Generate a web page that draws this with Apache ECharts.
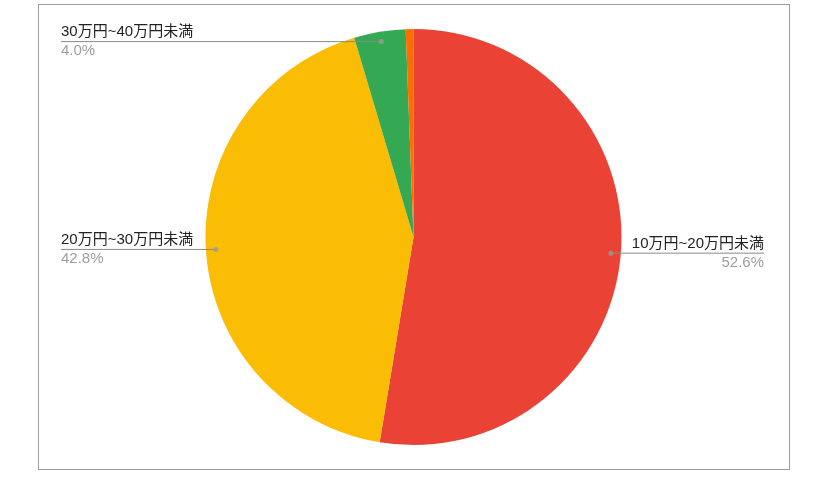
<!DOCTYPE html>
<html><head><meta charset="utf-8">
<script src="https://cdn.jsdelivr.net/npm/echarts@6/dist/echarts.min.js"></script>
<style>
html,body{margin:0;padding:0;background:#fff;}
#frame{position:absolute;left:38px;top:4px;width:750px;height:464px;border:1px solid #9e9e9e;}
#chart{position:absolute;left:0;top:0;width:825px;height:491px;}
</style></head><body>
<div id="frame"></div>
<div id="chart"></div>
<script>
const categories = ['10万円~20万円未満', '20万円~30万円未満', '30万円~40万円未満', '40万円以上'];
const values = [52.6, 42.8, 4.0, 0.6];
const colors = ['#EA4335', '#FBBC04', '#34A853', '#FF6D01'];
const labelled = [true, true, true, false];

const FONT = "'Liberation Sans', Arial, 'Noto Sans CJK JP', sans-serif";
const CENTER = [413.5, 237];
const RADIUS = 208;
const DOT_R = 0.952;

const total = values.reduce((a, b) => a + b, 0);
let acc = 0;
const dotData = [];
values.forEach((v, i) => {
  const mid = acc + v / 2;
  acc += v;
  if (labelled[i]) dotData.push([DOT_R, mid / total * 100]);
});

const pieBase = {
  type: 'pie',
  center: CENTER,
  radius: RADIUS,
  startAngle: 90,
  clockwise: true,
  percentPrecision: 1,
  avoidLabelOverlap: false
};

const chart = echarts.init(document.getElementById('chart'));
chart.setOption({
  animation: false,
  polar: { center: CENTER, radius: RADIUS },
  angleAxis: { type: 'value', min: 0, max: 100, startAngle: 90, clockwise: true, show: false },
  radiusAxis: { type: 'value', min: 0, max: 1, show: false },
  series: [
    Object.assign({}, pieBase, {
      z: 2,
      label: { show: false },
      labelLine: { show: false },
      data: categories.map((c, i) => ({ name: c, value: values[i], itemStyle: { color: colors[i] } }))
    }),
    Object.assign({}, pieBase, {
      z: 4,
      silent: true,
      data: categories.map((c, i) => ({
        name: c,
        value: values[i],
        itemStyle: { color: 'rgba(0,0,0,0)' },
        label: { show: labelled[i] },
        labelLine: { show: labelled[i] }
      })),
      label: {
        position: 'outside',
        alignTo: 'edge',
        edgeDistance: 61,
        formatter: p => `{n|${p.name}}\n{p|${p.percent.toFixed(1)}%}`,
        rich: {
          n: { fontSize: 15, color: '#222', lineHeight: 19, fontFamily: FONT },
          p: { fontSize: 15, color: '#9e9e9e', lineHeight: 19, fontFamily: FONT }
        }
      },
      labelLine: { show: true, length: 10, length2: 10, lineStyle: { color: '#8a8a8a', width: 1 } },
      labelLayout: function (p) {
        const pts = p.labelLinePoints;
        if (!pts) return {};
        const dx = pts[1][0] - pts[0][0], dy = pts[1][1] - pts[0][1];
        const len = Math.hypot(dx, dy) || 1;
        const inset = RADIUS * (1 - DOT_R);
        const dot = [pts[0][0] - dx / len * inset, pts[0][1] - dy / len * inset];
        const r = p.labelRect;
        const onLeft = r.x + r.width / 2 < dot[0];
        const endX = onLeft ? r.x : r.x + r.width;
        return { y: dot[1], verticalAlign: 'middle', labelLinePoints: [dot, dot, [endX, dot[1]]] };
      }
    }),
    {
      type: 'scatter',
      coordinateSystem: 'polar',
      z: 5,
      symbolSize: 5,
      itemStyle: { color: '#9a9a9a' },
      silent: true,
      data: dotData
    }
  ]
});
</script>
</body></html>
